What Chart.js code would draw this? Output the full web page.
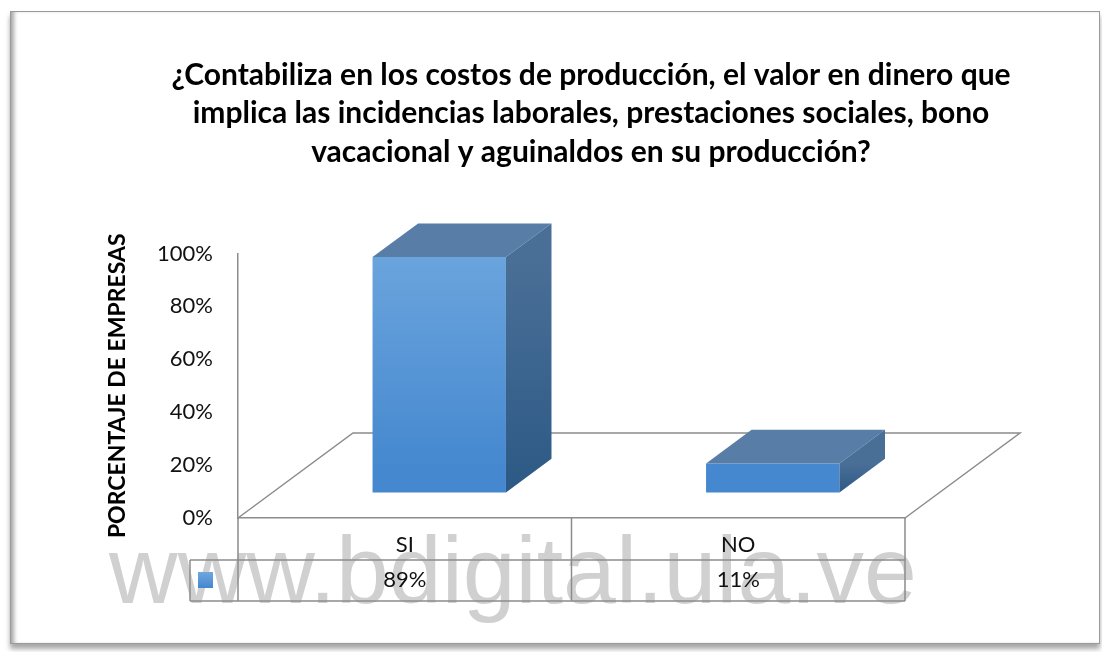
<!DOCTYPE html>
<html>
<head>
<meta charset="utf-8">
<script src="https://cdn.jsdelivr.net/npm/chart.js@4/dist/chart.umd.min.js"></script>
<style>
  html, body { margin: 0; padding: 0; background: #fff; }
  body { width: 1102px; height: 652px; position: relative; overflow: hidden; }
  .frame {
    position: absolute; left: 10px; top: 11px; width: 1088px; height: 631px;
    border: 1px solid #9a9a9a;
    box-shadow: inset 5px 0 4px -2px rgba(0,0,0,0.35), 0 5px 5px rgba(0,0,0,0.35);
  }
  canvas { position: absolute; left: 0; top: 0; }
</style>
</head>
<body>
<div class="frame"></div>
<canvas id="chart" width="1102" height="652"></canvas>
<script>
const categories = ['SI', 'NO'];
const values = [0.89, 0.11];
const tableLabels = ['89%', '11%'];
const yTicks = [0, 0.2, 0.4, 0.6, 0.8, 1];
const titleLines = [
  '¿Contabiliza en los costos de producción, el valor en dinero que',
  'implica las incidencias laborales, prestaciones sociales, bono',
  'vacacional y aguinaldos en su producción?'
];

// fake 3d: floor depth and where the bars sit inside it
const FLOOR = { dx: 115, dy: -85 };
const BAR_FRONT = 0.3;
const BAR_DEPTH = 0.396;

const bar3d = {
  id: 'bar3d',
  beforeDraw(chart) {
    const ctx = chart.ctx;
    ctx.save();
    ctx.font = '95px "Liberation Sans", Arial, sans-serif';
    ctx.fillStyle = '#d0d0d0';
    ctx.textAlign = 'center';
    ctx.textBaseline = 'alphabetic';
    ctx.fillText('www.bdigital.ula.ve', 513, 603);
    ctx.restore();
  },
  beforeDatasetsDraw(chart) {
    const ctx = chart.ctx;
    const a = chart.chartArea;
    ctx.save();
    ctx.strokeStyle = '#8c8c8c';
    ctx.lineWidth = 1.5;
    ctx.beginPath();
    ctx.moveTo(a.left, a.bottom);
    ctx.lineTo(a.left + FLOOR.dx, a.bottom + FLOOR.dy);
    ctx.lineTo(a.right + FLOOR.dx, a.bottom + FLOOR.dy);
    ctx.lineTo(a.right, a.bottom);
    ctx.stroke();
    ctx.restore();
    ctx.save();
    ctx.translate(FLOOR.dx * BAR_FRONT, FLOOR.dy * BAR_FRONT);
  },
  afterDatasetsDraw(chart) {
    const ctx = chart.ctx;
    const ddx = FLOOR.dx * BAR_DEPTH, ddy = FLOOR.dy * BAR_DEPTH;
    chart.getDatasetMeta(0).data.forEach(el => {
      const p = el.getProps(['x', 'y', 'base', 'width'], true);
      const l = p.x - p.width / 2, r = p.x + p.width / 2;
      const t = p.y, b = p.base;
      // top face
      ctx.fillStyle = '#587da7';
      ctx.beginPath();
      ctx.moveTo(l, t); ctx.lineTo(l + ddx, t + ddy);
      ctx.lineTo(r + ddx, t + ddy); ctx.lineTo(r, t);
      ctx.closePath(); ctx.fill();
      // side face
      const g = ctx.createLinearGradient(0, t, 0, b);
      g.addColorStop(0, '#4a6f97');
      g.addColorStop(1, '#2c5985');
      ctx.fillStyle = g;
      ctx.beginPath();
      ctx.moveTo(r, t); ctx.lineTo(r + ddx, t + ddy);
      ctx.lineTo(r + ddx, b + ddy); ctx.lineTo(r, b);
      ctx.closePath(); ctx.fill();
    });
    ctx.restore();
  },
  afterDraw(chart) {
    const ctx = chart.ctx;
    const a = chart.chartArea;
    const x = chart.scales.x;
    const row1 = 560, row2 = 601, keyLeft = 190;
    ctx.save();
    ctx.strokeStyle = '#8c8c8c';
    ctx.lineWidth = 1.5;
    ctx.beginPath();
    ctx.moveTo(a.left, a.bottom); ctx.lineTo(a.left, row2);
    categories.forEach((c, i) => {
      const edge = x.getPixelForValue(i) + (x.getPixelForValue(1) - x.getPixelForValue(0)) / 2;
      ctx.moveTo(edge, a.bottom); ctx.lineTo(edge, row2);
    });
    ctx.moveTo(keyLeft, row1); ctx.lineTo(a.right, row1);
    ctx.moveTo(keyLeft, row2); ctx.lineTo(a.right, row2);
    ctx.moveTo(keyLeft, row1); ctx.lineTo(keyLeft, row2);
    ctx.stroke();
    // legend key
    const kg = ctx.createLinearGradient(0, 572, 0, 588);
    kg.addColorStop(0, '#6fa7de');
    kg.addColorStop(1, '#4487cf');
    ctx.fillStyle = kg;
    ctx.fillRect(198, 572, 15, 16);
    ctx.fillStyle = '#111';
    ctx.font = '22px Lato, sans-serif';
    ctx.textAlign = 'center';
    ctx.textBaseline = 'middle';
    categories.forEach((c, i) => {
      const cx = x.getPixelForValue(i);
      ctx.fillText(c, cx, 545);
      ctx.fillText(tableLabels[i], cx, 580);
    });
    ctx.restore();
  }
};

const ctx = document.getElementById('chart').getContext('2d');
const front = ctx.createLinearGradient(0, 250, 0, 495);
front.addColorStop(0, '#70a8df');
front.addColorStop(1, '#4588cf');

new Chart(ctx, {
  type: 'bar',
  data: {
    labels: categories,
    datasets: [{
      data: values,
      backgroundColor: front,
      borderWidth: 0,
      categoryPercentage: 1,
      barPercentage: 0.4,
      clip: false
    }]
  },
  options: {
    responsive: false,
    animation: false,
    layout: { padding: { left: 80, right: 0, top: 0, bottom: 0 } },
    plugins: {
      legend: { display: false },
      tooltip: { enabled: false },
      title: {
        display: true,
        text: titleLines,
        color: '#000',
        font: { family: 'Lato', size: 30, weight: 'bold', lineHeight: 1.283 },
        padding: { top: 56, bottom: 82 }
      }
    },
    scales: {
      x: {
        grid: { display: false, drawTicks: false },
        border: { display: true, color: '#8c8c8c', width: 1.5 },
        ticks: { display: false },
        afterFit(s) { s.height = 134; }
      },
      y: {
        min: 0,
        max: 1,
        afterBuildTicks(s) { s.ticks = yTicks.map(v => ({ value: v })); },
        grid: { display: false, drawTicks: false },
        border: { display: true, color: '#8c8c8c', width: 1.5 },
        ticks: {
          padding: 25,
          color: '#111',
          font: { family: 'Lato', size: 22 },
          callback: v => Math.round(v * 100) + '%'
        },
        title: {
          display: true,
          text: 'PORCENTAJE DE EMPRESAS',
          color: '#000',
          font: { family: 'Lato', size: 23, weight: 'bold' },
          padding: { top: 24 }
        },
        afterFit(s) { s.width = 158; }
      },
      y2: {
        position: 'right',
        display: true,
        grid: { display: false, drawTicks: false },
        border: { display: false },
        ticks: { display: false },
        afterFit(s) { s.width = 197; }
      }
    }
  },
  plugins: [bar3d]
});
</script>
</body>
</html>
